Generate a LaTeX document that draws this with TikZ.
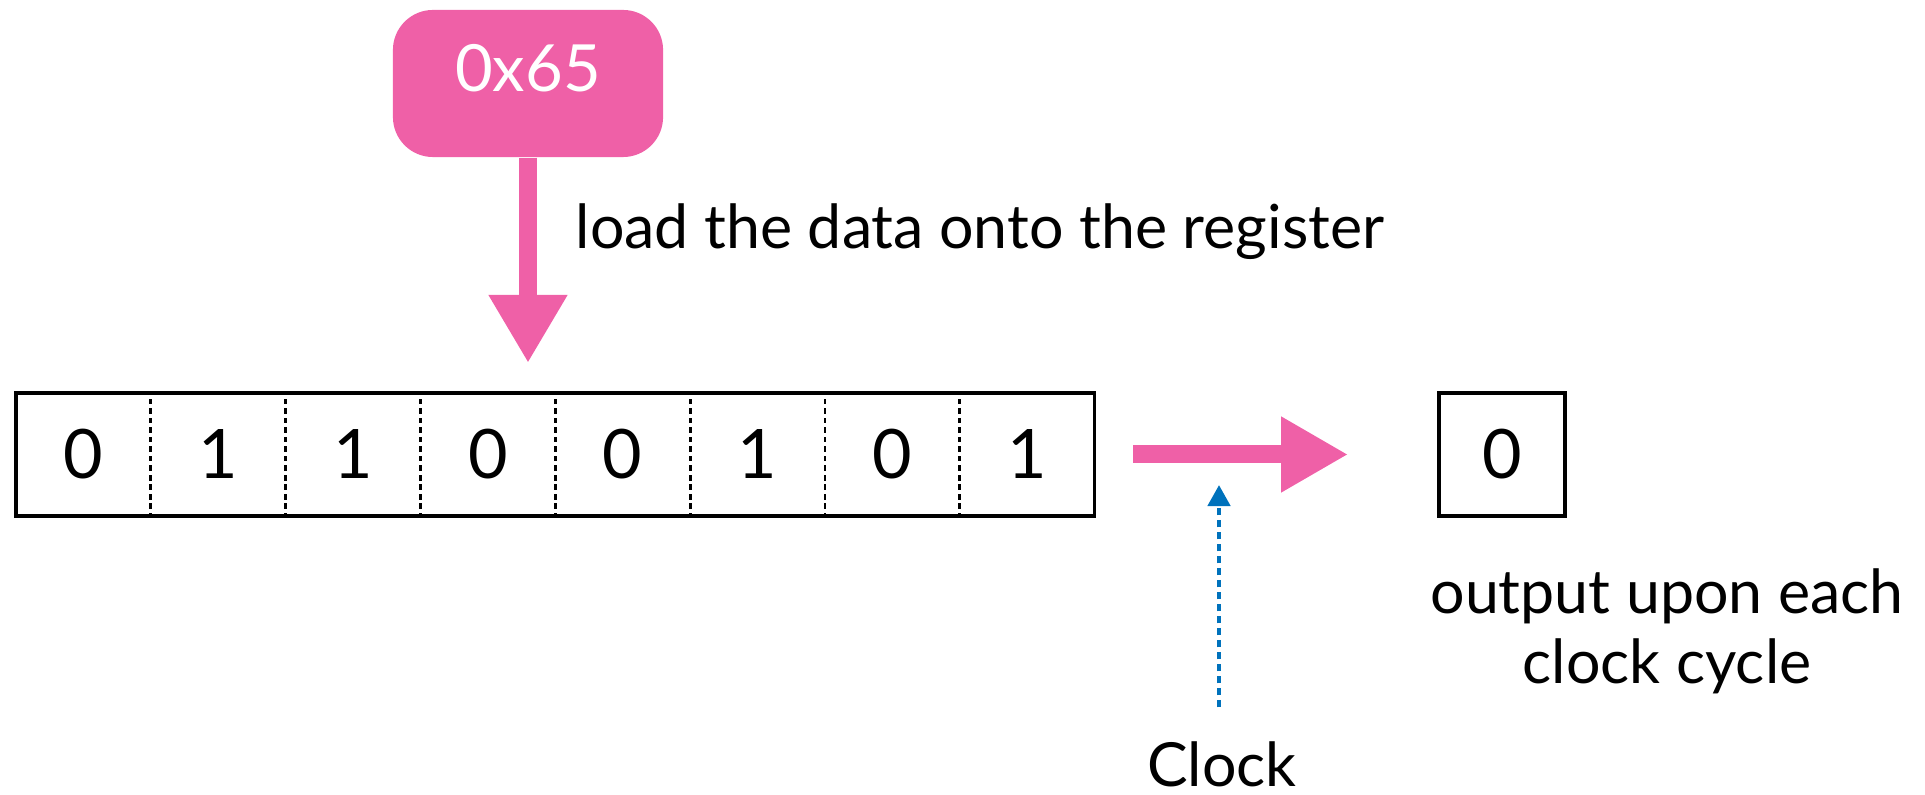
\documentclass[tikz,border=0pt]{standalone}
\usepackage{fontspec}
\setmainfont{Lato}
\usetikzlibrary{arrows.meta,positioning,fit}
\definecolor{hexpink}{RGB}{239,96,167}
\definecolor{clkblue}{RGB}{0,114,188}
\tikzset{
	hexbox/.style={rectangle, rounded corners=0.4cm, fill=hexpink, text=white,
		minimum width=2.7cm, minimum height=1.47cm, font=\fontsize{18.5}{20}\selectfont,
		text height=0.45cm, text depth=0.29cm},
	bitcell/.style={rectangle, draw=black, line width=0.8pt, dash pattern=on 0.05cm off 0.045cm,
		minimum width=1.3475cm, minimum height=1.23cm, inner sep=0pt, outer sep=0pt,
		font=\fontsize{19.4}{22}\selectfont},
	outbox/.style={rectangle, draw=black, line width=1pt, minimum width=1.26cm,
		minimum height=1.23cm, font=\fontsize{19.4}{22}\selectfont},
	txt/.style={font=\fontsize{17.3}{19.9}\selectfont, inner sep=0pt},
	pinkarr/.style={draw=hexpink, line width=0.18cm},
	clkarr/.style={draw=clkblue, line width=0.045cm, dash pattern=on 0.07cm off 0.05cm,
		-{Triangle[length=0.21cm, width=0.22cm]}}
}
\begin{document}
\begin{tikzpicture}[x=0.01cm, y=-0.01cm]
	\useasboundingbox (0,0) rectangle (1925,795);
	% value to be loaded
	\node[hexbox] (hex) at (528,83.5) {0x65};
	\coordinate (loadtip) at (528,363);
	\draw[pinkarr, -{Triangle[length=0.68cm, width=0.74cm]}] (hex) -- (loadtip);
	\node[txt, anchor=base west] (loadlbl) at (575,249) {load the data onto the register};
	% the shift register, one cell per bit
	\coordinate (c0) at (16,454.5);
	\foreach \b [count=\i, remember=\i as \prev (initially 0)] in {0,1,1,0,0,1,0,1}
		\node[bitcell, right=0pt of c\prev] (c\i) {\b};
	\node[fit=(c1)(c8), draw, line width=1pt, inner sep=0pt] (reg) {};
	% shifted-out bit
	\node[outbox] (out) at (1502,454.5) {0};
	\draw[pinkarr, -{Triangle[length=0.67cm, width=0.71cm]}, shorten <=0.37cm, shorten >=0.89cm]
		(reg.east) -- (out.west);
	\node[txt, align=center, anchor=north] (outlbl) at (1667,568) {output upon each\\clock cycle};
	% clock input
	\node[txt, anchor=base] (clk) at (1222,787) {Clock};
	\coordinate (clktip) at (1219,485);
	\draw[clkarr, shorten <=0.34cm] (clk.north -| clktip) -- (clktip);
\end{tikzpicture}
\end{document}
